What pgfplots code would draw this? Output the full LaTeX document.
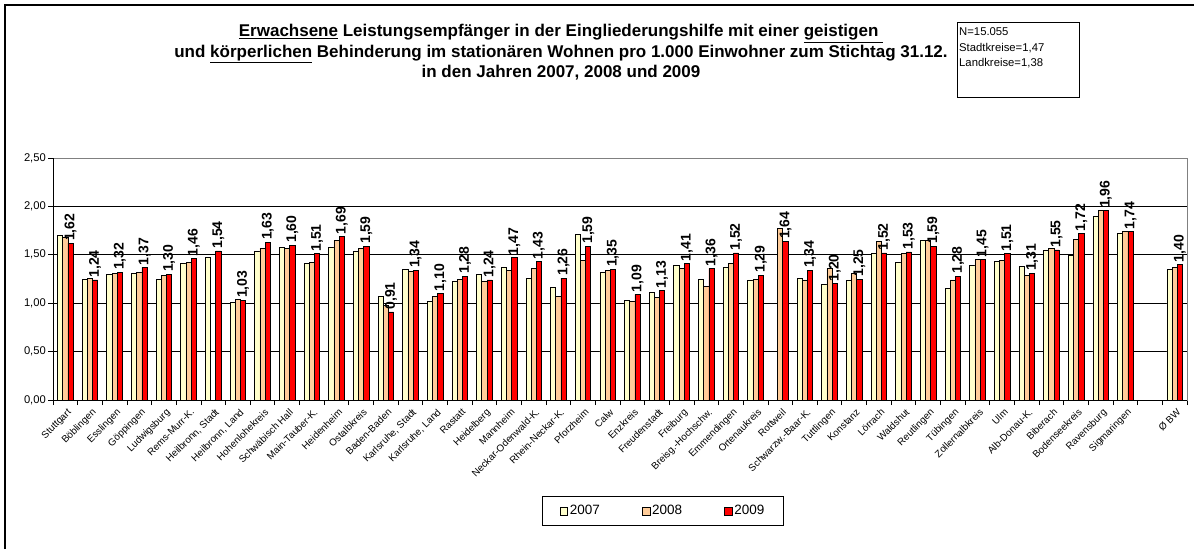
\documentclass[border=0pt]{standalone}
\usepackage{fontspec}
\setmainfont{Liberation Sans}
\usepackage{pgfplots}
\usepackage{pgfplotstable}
\pgfplotsset{compat=1.18}

\definecolor{c07}{HTML}{FFFFCC}
\definecolor{c08}{HTML}{FFCC99}
\definecolor{c09}{HTML}{FF0000}

% Leistungsempfaenger pro 1.000 Einwohner, 2007/2008/2009
\pgfplotstableread{
x y07 y08 y09
0 1.70 1.68 1.62
1 1.25 1.26 1.24
2 1.30 1.31 1.32
3 1.31 1.32 1.37
4 1.25 1.29 1.30
5 1.41 1.42 1.46
6 1.47 nan 1.54
7 1.01 1.04 1.03
8 1.54 1.57 1.63
9 1.58 1.57 1.60
10 1.41 1.42 1.51
11 1.58 1.65 1.69
12 1.54 1.57 1.59
13 1.07 0.98 0.91
14 1.35 1.33 1.34
15 1.02 1.07 1.10
16 1.23 1.25 1.28
17 1.30 1.23 1.24
18 1.37 1.34 1.47
19 1.26 1.36 1.43
20 1.16 1.07 1.26
21 1.71 1.44 1.59
22 1.32 1.34 1.35
23 1.03 1.02 1.09
24 1.11 1.06 1.13
25 1.39 1.36 1.41
26 1.25 1.17 1.36
27 1.37 1.41 1.52
28 1.24 1.25 1.29
29 nan 1.77 1.64
30 1.26 1.24 1.34
31 1.19 1.36 1.20
32 1.24 1.31 1.25
33 1.52 1.64 1.52
34 1.42 1.51 1.53
35 1.65 1.65 1.59
36 1.15 1.24 1.28
37 1.39 1.45 1.45
38 1.43 1.44 1.51
39 1.38 1.29 1.31
40 1.55 1.57 1.55
41 1.49 1.66 1.72
42 1.90 1.96 1.96
43 1.72 1.74 1.74
45 1.35 1.37 1.40
}\data

\begin{document}
\begin{tikzpicture}
% outer frame (only left and top edge visible)
\draw[line width=1.2pt] (5pt,0pt) -- (5pt,544pt) -- (1194pt,544pt);

% title
\begin{scope}[every node/.style={font=\bfseries\fontsize{17}{20}\selectfont, anchor=base, inner sep=0pt}]
\node at (561pt,512pt) {\underline{Erwachsene} Leistungsempfänger in der Eingliederungshilfe mit einer \underline{geistigen\ }};
\node at (561pt,491.5pt) {und \underline{körperlichen} Behinderung im stationären Wohnen pro 1.000 Einwohner zum Stichtag 31.12.};
\node at (561pt,471pt) {in den Jahren 2007, 2008 und 2009};
\end{scope}

% info box
\draw[line width=0.8pt] (957pt,527pt) rectangle (1079pt,452pt);
\begin{scope}[every node/.style={font=\fontsize{11.3}{13}\selectfont, anchor=base west, inner sep=0pt}]
\node at (959pt,513pt) {N=15.055};
\node at (959pt,497.5pt) {Stadtkreise=1,47};
\node at (959pt,482pt) {Landkreise=1,38};
\end{scope}

\begin{axis}[
    at={(53pt,149pt)}, anchor=south west,
    scale only axis,
    width=1134pt, height=242pt,
    ybar=0pt, bar width=5.2pt,
    xmin=-0.5, xmax=45.5,
    ymin=0, ymax=2.5,
    ytick={0,0.5,...,2.5},
    xtick={0,...,43,45},
    xticklabels={Stuttgart,Böblingen,Esslingen,Göppingen,Ludwigsburg,Rems-Murr-K.,{Heilbronn, Stadt},{Heilbronn, Land},Hohenlohekreis,Schwäbisch Hall,Main-Tauber-K.,Heidenheim,Ostalbkreis,Baden-Baden,{Karlsruhe, Stadt},{Karlsruhe, Land},Rastatt,Heidelberg,Mannheim,Neckar-Odenwald-K.,Rhein-Neckar-K.,Pforzheim,Calw,Enzkreis,Freudenstadt,Freiburg,Breisg.-Hochschw.,Emmendingen,Ortenaukreis,Rottweil,Schwarzw.-Baar-K.,Tuttlingen,Konstanz,Lörrach,Waldshut,Reutlingen,Tübingen,Zollernalbkreis,Ulm,Alb-Donau-K.,Biberach,Bodenseekreis,Ravensburg,Sigmaringen,Ø BW},
    minor xtick={-0.5,0.5,...,45.5},
    major x tick style={draw=none},
    minor x tick style={black, line width=0.8pt},
    y tick style={black, line width=0.8pt},
    tick align=outside, tick pos=left,
    major tick length=5pt, minor tick length=5pt,
    xticklabel style={rotate=45, anchor=north east, font=\fontsize{9.8}{10}\selectfont, inner sep=1pt, yshift=-2pt},
    yticklabel style={font=\fontsize{11.2}{12}\selectfont, inner sep=2pt},
    /pgf/number format/.cd, use comma, fixed, fixed zerofill, precision=2, assume math mode=true,
    /pgfplots/.cd,
    ymajorgrids, grid style={black, line width=0.8pt},
    axis line style={gray, line width=0.8pt},
    extra description/.code={\draw[black, line width=0.9pt] (0,1) -- (0,0) -- (1,0);},
    legend columns=3,
    legend style={at={(0.538,-0.4587)}, anchor=center, draw=black, line width=0.8pt,
        font=\fontsize{13.5}{15}\selectfont, inner xsep=17pt, inner ysep=7pt,
        /tikz/every even column/.append style={column sep=40pt}},
    legend image code/.code={\draw[#1, draw=black, line width=0.6pt] (0pt,-3.8pt) rectangle (7.6pt,3.8pt);},
    legend cell align=left,
]
\addplot[fill=c07, draw=black, line width=0.7pt] table[x=x, y=y07] {\data};
\addplot[fill=c08, draw=black, line width=0.7pt] table[x=x, y=y08] {\data};
\addplot[fill=c09, draw=black, line width=0.7pt,
    nodes near coords,
    every node near coord/.append style={rotate=90, anchor=west, inner sep=2pt,
        font=\bfseries\fontsize{14}{14}\selectfont, black},
    ] table[x=x, y=y09] {\data};
\legend{2007,2008,2009}
\end{axis}
\pgfresetboundingbox
\path (0pt,0pt) rectangle (1194pt,549pt);
\end{tikzpicture}
\end{document}
